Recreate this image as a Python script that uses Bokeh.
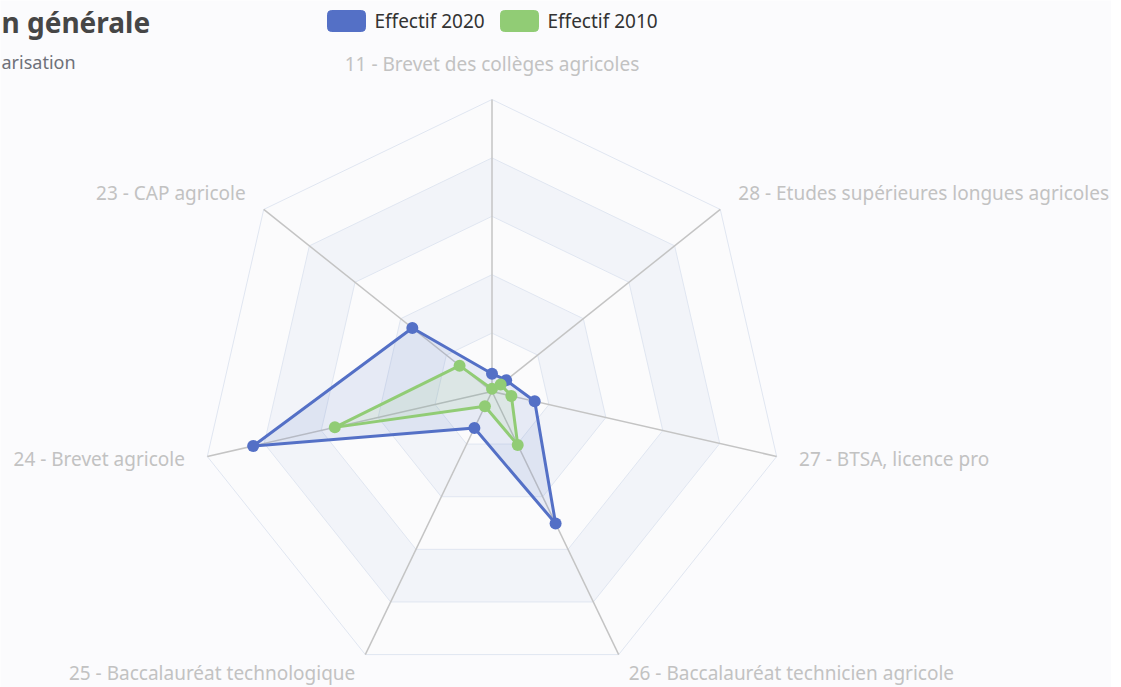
import numpy as np
from bokeh.plotting import figure
from bokeh.models import Range1d, ColumnDataSource
from bokeh.embed import file_html
from bokeh.resources import INLINE
from bokeh.core.properties import value

# ---------------- data ----------------
indicators = [
    "11 - Brevet des collèges agricoles",
    "23 - CAP agricole",
    "24 - Brevet agricole",
    "25 - Baccalauréat technologique",
    "26 - Baccalauréat technicien agricole",
    "27 - BTSA, licence pro",
    "28 - Etudes supérieures longues agricoles",
]
indicator_max = [5000, 5000, 5000, 5000, 5000, 5000, 5000]
effectif_2020 = [305, 1745, 4195, 695, 2510, 750, 310]
effectif_2010 = [45, 710, 2760, 280, 1015, 340, 190]
series_names = ["Effectif 2020", "Effectif 2010"]
series_colors = ["#5470c6", "#91cc75"]
title_text = "n générale"
subtitle_text = "arisation"
split_number = 5

# ---------------- layout ----------------
FONT = "Noto Sans"
BG = "#fbfbfd"
W, H = 1111, 687
CX, CY = 491.5, 391.0   # radar centre, canvas pixels from top-left
RPX = 292.0             # radar radius in pixels


def px(x, y):
    """canvas pixel -> data coords"""
    return (x - CX) / RPX, (CY - y) / RPX


p = figure(width=W, height=H, output_backend="svg", toolbar_location=None,
           x_range=Range1d(-CX / RPX, (W - CX) / RPX),
           y_range=Range1d(-(H - CY) / RPX, CY / RPX),
           x_axis_location=None, y_axis_location=None,
           min_border=0, border_fill_color=BG, background_fill_color=BG,
           outline_line_color=None)
p.grid.visible = False

n = len(indicators)
theta = np.pi / 2 + np.arange(n) * 2 * np.pi / n
cos_t, sin_t = np.cos(theta), np.sin(theta)

# split areas + split lines
area_colors = ["#fbfbfc", "#f2f4f9"]
for k in range(split_number, 0, -1):
    r = k / split_number
    p.patch(list(r * cos_t), list(r * sin_t),
            fill_color=area_colors[(k - 1) % 2], line_color="#e0e6f1", line_width=1)

# axis lines (spokes)
p.segment(x0=[0] * n, y0=[0] * n, x1=list(cos_t), y1=list(sin_t),
          line_color="#c4c4c4", line_width=1.5)

# series
for vals, name, col in [(effectif_2020, series_names[0], series_colors[0]),
                        (effectif_2010, series_names[1], series_colors[1])]:
    frac = np.array(vals) / np.array(indicator_max)
    xs, ys = list(frac * cos_t), list(frac * sin_t)
    p.patch(xs, ys, fill_color=col, fill_alpha=0.12, line_color=col, line_width=3,
            line_join="round")
    p.scatter(xs, ys, size=12, fill_color=col, line_color=col, line_width=0)

# indicator names
gap = 1 + 23 / RPX
aligns, baselines, lx_, ly_ = [], [], [], []
for c, s in zip(cos_t, sin_t):
    if abs(c) < 1e-6:
        aligns.append("center")
    elif c > 0:
        aligns.append("left")
    else:
        aligns.append("right")
    top = s > 0.99
    baselines.append("bottom" if top else "middle")
    lx_.append(gap * c)
    ly_.append(gap * s + (0 if top else 2.5 / RPX))
name_src = ColumnDataSource(dict(x=lx_, y=ly_, text=indicators,
                                 align=aligns, baseline=baselines))
p.text(x="x", y="y", text="text", source=name_src, text_align="align",
       text_baseline="baseline", text_font=value(FONT), text_font_size="19px",
       text_color="#c2c2c2")

# title / subtitle
tx, ty = px(1, 21)
p.text(x=[tx], y=[ty], text=[title_text], text_font=value(FONT), text_font_size="28px",
       text_font_style="bold", text_color="#464646", text_baseline="middle")
sx, sy = px(1, 61)
p.text(x=[sx], y=[sy], text=[subtitle_text], text_font=value(FONT), text_font_size="18px",
       text_color="#6e7079", text_baseline="middle")

# legend
leg_left = [327, 500]
for i, (name, col) in enumerate(zip(series_names, series_colors)):
    l, t = px(leg_left[i], 10)
    r, b = px(leg_left[i] + 38, 31)
    p.quad(left=[l], right=[r], top=[t], bottom=[b], fill_color=col, line_color=col,
           border_radius=4)
    lx, ly = px(leg_left[i] + 47, 20)
    p.text(x=[lx], y=[ly], text=[name], text_font=value(FONT), text_font_size="19px",
           text_color="#333333", text_baseline="middle")

open("out.html", "w").write(file_html(p, INLINE))
